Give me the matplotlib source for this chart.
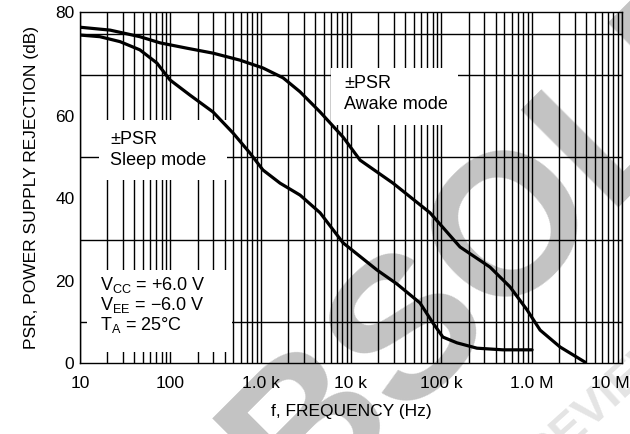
import matplotlib

matplotlib.use("Agg", force=True)
import matplotlib.pyplot as plt
import matplotlib.transforms as mtransforms
from matplotlib.patches import Rectangle

plt.rcParams["font.family"] = ["Liberation Sans", "DejaVu Sans"]
plt.rcParams["mathtext.fontset"] = "custom"
plt.rcParams["mathtext.rm"] = "Liberation Sans"
plt.rcParams["mathtext.it"] = "Liberation Sans"

# Awake mode PSR curve (Hz, dB)
awake_freq = [10, 21.5, 46, 77, 153, 297, 590, 1060, 1770, 2730, 4550, 8170,
              12600, 29200, 75000, 161000, 346000, 576000, 889000, 1.24e6,
              2.06e6, 3.9e6]
awake_psr = [81.6, 80.9, 79.3, 77.8, 76.5, 75.3, 73.6, 71.7, 69.3, 65.9, 61.0,
             54.9, 49.3, 43.7, 36.5, 28.2, 23.3, 18.5, 12.9, 8.0, 3.9, 0.2]

# Sleep mode PSR curve (Hz, dB)
sleep_freq = [10, 16.6, 27.7, 46, 71, 99, 165, 297, 494, 762, 1060, 1640, 2730,
              4550, 8170, 19400, 32300, 58000, 80900, 104000, 149000, 248000,
              482000, 1.01e6]
sleep_psr = [79.7, 79.3, 78.1, 76.1, 72.9, 68.8, 65.1, 61.0, 55.9, 51.0, 46.9,
             43.7, 40.8, 36.5, 29.2, 22.6, 19.2, 14.6, 9.7, 6.3, 4.9, 3.6, 3.2,
             3.2]

x_ticks = [10, 100, 1e3, 1e4, 1e5, 1e6, 1e7]
x_labels = ["10", "100", "1.0 k", "10 k", "100 k", "1.0 M", "10 M"]
y_top = 85.3
y_ticks = [0, 20, 40, 60, y_top]
y_labels = ["0", "20", "40", "60", "80"]
y_grid = [10, 20, 30, 40, 50, 60, 70, 80]

fig = plt.figure(figsize=(6.3, 4.34), dpi=100)
ax = fig.add_axes([80 / 630, 71 / 434, 542 / 630, 351 / 434])
ax.set_facecolor("none")

# background stamps
fig.text(0.921, 0.451, "OBSOLETE", fontsize=145, fontweight="bold",
         family="Liberation Sans", color="#c3c3c3", rotation=45,
         ha="center", va="baseline", rotation_mode="anchor", zorder=-2)
fig.text(0.950, 0.035, "PREVIEW", fontsize=34, fontweight="bold",
         family="Liberation Sans", color="#e4e4e4", rotation=42,
         ha="center", va="baseline", rotation_mode="anchor", zorder=-2)

ax.set_xscale("log")
ax.set_xlim(10, 1e7)
ax.set_ylim(0, y_top)

ax.set_xticks(x_ticks)
ax.set_xticklabels(x_labels)
ax.set_xticks([m * d for d in x_ticks[:-1] for m in range(2, 10)], minor=True)
ax.set_yticks(y_ticks)
ax.set_yticklabels(y_labels)
ax.set_yticks(y_grid, minor=True)
ax.tick_params(which="both", length=0, labelsize=12.5)
ax.tick_params(axis="x", pad=9)
ax.tick_params(axis="y", pad=4)

# last frequency label sits inside the figure edge
last = ax.get_xticklabels()[-1]
last.set_horizontalalignment("right")
last.set_transform(last.get_transform()
                   + mtransforms.ScaledTranslation(0.08, 0, fig.dpi_scale_trans))

ax.grid(which="both", axis="x", color="black", linewidth=1.0)
ax.grid(which="minor", axis="y", color="black", linewidth=1.0)
ax.grid(which="major", axis="y", visible=False)
for side in ax.spines.values():
    side.set_linewidth(1.0)

ax.plot(awake_freq, awake_psr, color="black", linewidth=2.3,
        solid_joinstyle="round", solid_capstyle="round", zorder=4)
ax.plot(sleep_freq, sleep_psr, color="black", linewidth=2.3,
        solid_joinstyle="round", solid_capstyle="round", zorder=4)

# white label panels
panels = [(0.035, 0.521, 0.236, 0.171), (0.463, 0.678, 0.234, 0.162),
          (0.013, 0.031, 0.267, 0.234)]
for x0, y0, w, h in panels:
    ax.add_patch(Rectangle((x0, y0), w, h, transform=ax.transAxes,
                           facecolor="white", edgecolor="none", zorder=3))

ax.text(110 / 630, 1 - 150 / 434, "\u00b1PSR\nSleep mode", transform=fig.transFigure,
        fontsize=13, va="center", ha="left", linespacing=1.35, zorder=5)
ax.text(344 / 630, 1 - 94 / 434, "\u00b1PSR\nAwake mode", transform=fig.transFigure,
        fontsize=13, va="center", ha="left", linespacing=1.35, zorder=5)
ax.text(100 / 630, 1 - 305 / 434,
        "V$_{\\mathrm{CC}}$ = +6.0 V\nV$_{\\mathrm{EE}}$ = \u22126.0 V\nT$_{\\mathrm{A}}$ = 25\u00b0C",
        transform=fig.transFigure, fontsize=13, va="center", ha="left",
        linespacing=1.0, zorder=5)

ax.set_xlabel("f, FREQUENCY (Hz)", fontsize=12.5, labelpad=10)
ax.set_ylabel("PSR, POWER SUPPLY REJECTION (dB)", fontsize=12.5, labelpad=12)

fig.savefig("out.png", dpi=100)
